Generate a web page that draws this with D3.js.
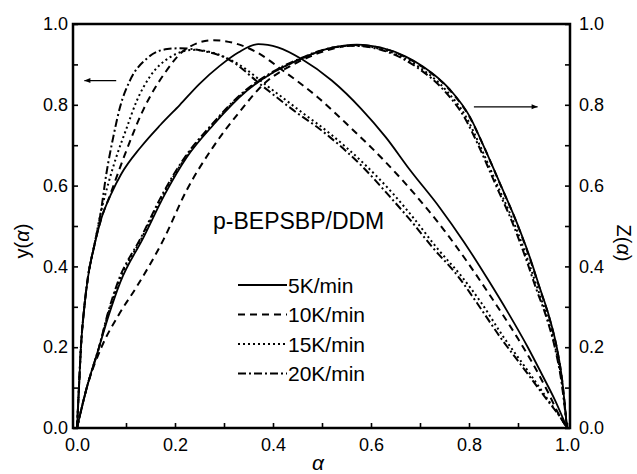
<!DOCTYPE html>
<html>
<head>
<meta charset="utf-8">
<script src="https://cdn.jsdelivr.net/npm/d3@7"></script>
<style>
body { margin: 0; background: #fff; }
text { font-family: "Liberation Sans", Arial, sans-serif; fill: #000; }
</style>
</head>
<body>
<div id="chart"></div>
<script>
// heating rates (legend)
var rates = ["5K/min", "10K/min", "15K/min", "20K/min"];
var xTicks = [0, 0.1, 0.2, 0.3, 0.4, 0.5, 0.6, 0.7, 0.8, 0.9, 1.0];
var yTicks = [0, 0.1, 0.2, 0.3, 0.4, 0.5, 0.6, 0.7, 0.8, 0.9, 1.0];
var tickLabels = ["0.0", "0.2", "0.4", "0.6", "0.8", "1.0"];

// y(alpha) curves, [alpha, value]
var y5 = [[0,0],[0.004,0.1],[0.008,0.2],[0.015,0.3],[0.022,0.37],[0.035,0.45],[0.05,0.52],[0.07,0.58],[0.09,0.628],[0.13,0.695],[0.17,0.75],[0.21,0.80],[0.25,0.852],[0.29,0.895],[0.33,0.93],[0.37,0.95],[0.41,0.942],[0.46,0.912],[0.52,0.86],[0.58,0.79],[0.63,0.72],[0.68,0.638],[0.74,0.546],[0.79,0.46],[0.84,0.365],[0.88,0.285],[0.92,0.20],[0.95,0.13],[0.975,0.07],[1,0]];
var y10 = [[0,0],[0.004,0.1],[0.008,0.2],[0.015,0.3],[0.022,0.37],[0.035,0.45],[0.05,0.52],[0.067,0.575],[0.094,0.665],[0.135,0.787],[0.18,0.88],[0.22,0.936],[0.278,0.96],[0.32,0.953],[0.367,0.93],[0.42,0.885],[0.49,0.82],[0.557,0.745],[0.626,0.663],[0.694,0.572],[0.749,0.49],[0.80,0.405],[0.843,0.328],[0.898,0.225],[0.93,0.16],[0.959,0.094],[0.985,0.03],[1,0]];
var y15 = [[0,0],[0.004,0.1],[0.008,0.2],[0.015,0.3],[0.022,0.37],[0.035,0.45],[0.048,0.53],[0.065,0.61],[0.08,0.67],[0.10,0.738],[0.122,0.81],[0.149,0.87],[0.19,0.918],[0.216,0.932],[0.24,0.936],[0.28,0.928],[0.33,0.9],[0.39,0.845],[0.455,0.785],[0.52,0.725],[0.585,0.655],[0.645,0.58],[0.69,0.515],[0.735,0.445],[0.785,0.375],[0.825,0.31],[0.87,0.226],[0.915,0.15],[0.96,0.072],[0.99,0.02],[1,0]];
var y20 = [[0,0],[0.004,0.1],[0.008,0.2],[0.015,0.3],[0.022,0.37],[0.035,0.45],[0.048,0.53],[0.06,0.63],[0.074,0.72],[0.088,0.795],[0.108,0.86],[0.143,0.915],[0.184,0.938],[0.21,0.94],[0.25,0.935],[0.31,0.912],[0.38,0.845],[0.449,0.78],[0.49,0.745],[0.516,0.72],[0.58,0.65],[0.639,0.572],[0.68,0.515],[0.727,0.445],[0.776,0.378],[0.816,0.31],[0.863,0.226],[0.91,0.15],[0.959,0.07],[0.99,0.02],[1,0]];

// Z(alpha) curves, [alpha, value]
var z5 = [[0,0],[0.02,0.1],[0.045,0.2],[0.065,0.28],[0.088,0.36],[0.135,0.47],[0.18,0.58],[0.224,0.67],[0.278,0.75],[0.347,0.835],[0.4,0.88],[0.45,0.91],[0.516,0.94],[0.571,0.949],[0.624,0.94],[0.67,0.92],[0.706,0.895],[0.761,0.838],[0.802,0.77],[0.829,0.70],[0.863,0.606],[0.898,0.507],[0.924,0.423],[0.945,0.345],[0.965,0.27],[0.98,0.195],[0.99,0.12],[1,0]];
var z10 = [[0,0],[0.02,0.1],[0.05,0.2],[0.085,0.28],[0.122,0.35],[0.176,0.465],[0.224,0.589],[0.278,0.696],[0.33,0.78],[0.38,0.85],[0.45,0.905],[0.52,0.938],[0.571,0.948],[0.624,0.94],[0.67,0.918],[0.706,0.893],[0.761,0.836],[0.802,0.768],[0.829,0.70],[0.863,0.605],[0.898,0.506],[0.924,0.42],[0.945,0.343],[0.965,0.268],[0.98,0.193],[0.99,0.12],[1,0]];
var z15 = [[0,0],[0.02,0.1],[0.045,0.2],[0.063,0.28],[0.085,0.36],[0.132,0.47],[0.177,0.58],[0.222,0.67],[0.276,0.75],[0.345,0.835],[0.4,0.88],[0.45,0.91],[0.516,0.94],[0.568,0.947],[0.62,0.938],[0.665,0.918],[0.7,0.892],[0.754,0.835],[0.795,0.768],[0.822,0.70],[0.856,0.606],[0.892,0.507],[0.918,0.423],[0.94,0.345],[0.961,0.27],[0.977,0.195],[0.989,0.12],[1,0]];
var z20 = [[0,0],[0.02,0.1],[0.045,0.2],[0.062,0.28],[0.083,0.36],[0.13,0.47],[0.175,0.58],[0.22,0.67],[0.274,0.75],[0.343,0.835],[0.4,0.882],[0.45,0.912],[0.516,0.94],[0.566,0.946],[0.618,0.937],[0.662,0.916],[0.697,0.89],[0.751,0.833],[0.792,0.766],[0.819,0.70],[0.853,0.606],[0.889,0.507],[0.915,0.423],[0.937,0.345],[0.959,0.27],[0.976,0.195],[0.988,0.12],[1,0]];

var svgWidth = 637, svgHeight = 474;
var svg = d3.select("#chart").append("svg")
    .attr("width", svgWidth).attr("height", svgHeight);

// plot frame
var frame = {left: 73, right: 570, top: 24, bottom: 428};
var x = d3.scaleLinear().domain([0, 1]).range([77, 567]);
var y = d3.scaleLinear().domain([0, 1]).range([428, 24]);

var dashes = ["none", "7,5", "2,3", "8,3,2,3"];

function fmt(d) {
    var s = d3.format(".1f")(d);
    return tickLabels.indexOf(s) >= 0 ? s : "";
}

// axes
var bottomAxis = d3.axisBottom(x).tickValues(xTicks).tickSize(-5).tickPadding(10).tickFormat(fmt);
var leftAxis = d3.axisLeft(y).tickValues(yTicks).tickSize(-5).tickPadding(5).tickFormat(fmt);
var rightAxis = d3.axisRight(y).tickValues(yTicks).tickSize(-5).tickPadding(9).tickFormat(fmt);

var gb = svg.append("g").attr("transform", `translate(0, ${frame.bottom})`).call(bottomAxis);
var gl = svg.append("g").attr("transform", `translate(${frame.left}, 0)`).call(leftAxis);
var gr = svg.append("g").attr("transform", `translate(${frame.right}, 0)`).call(rightAxis);
[gb, gl, gr].forEach(function(g) {
    g.select(".domain").remove();
    g.selectAll(".tick line").attr("stroke", "#000").attr("stroke-width", 1.6);
    g.selectAll(".tick text").style("font-size", "18px").attr("fill", "#000");
});

svg.append("rect")
    .attr("x", frame.left).attr("y", frame.top)
    .attr("width", frame.right - frame.left).attr("height", frame.bottom - frame.top)
    .attr("fill", "none").attr("stroke", "#000").attr("stroke-width", 2.5);

// curves
var line = d3.line().x(d => x(d[0])).y(d => y(d[1])).curve(d3.curveMonotoneX);
var ySeries = [y5, y10, y15, y20];
var zSeries = [z5, z10, z15, z20];
ySeries.concat(zSeries).forEach(function(s, i) {
    svg.append("path").datum(s)
        .attr("d", line)
        .attr("fill", "none").attr("stroke", "#000")
        .attr("stroke-width", i % 4 == 0 ? 1.8 : 2)
        .attr("stroke-dasharray", dashes[i % 4]);
});

// arrows showing which axis
function arrow(x1, x2, v) {
    var dir = x2 > x1 ? 1 : -1;
    svg.append("line")
        .attr("x1", x(x1)).attr("x2", x(x2)).attr("y1", y(v)).attr("y2", y(v))
        .attr("stroke", "#000").attr("stroke-width", 1.2);
    var tx = x(x2), ty = y(v);
    svg.append("path")
        .attr("d", `M${tx},${ty} L${tx - dir * 6},${ty - 2.5} L${tx - dir * 6},${ty + 2.5} Z`)
        .attr("fill", "#000");
}
arrow(0.08, 0.015, 0.86);
arrow(0.81, 0.94, 0.795);

// annotation
svg.append("text").attr("x", 213).attr("y", 229)
    .style("font-size", "23px").text("p-BEPSBP/DDM");

// legend
var legend = svg.append("g").attr("transform", "translate(238, 285)");
rates.forEach(function(r, i) {
    var row = legend.append("g").attr("transform", `translate(0, ${i * 29.5})`);
    row.append("line").attr("x1", 0).attr("x2", 49).attr("y1", 0).attr("y2", 0)
        .attr("stroke", "#000").attr("stroke-width", 1.8)
        .attr("stroke-dasharray", dashes[i]);
    row.append("text").attr("x", 50).attr("y", 7.5)
        .style("font-size", "21px").text(r);
});

// axis titles
svg.append("text")
    .attr("transform", "translate(29, 241) rotate(-90)")
    .attr("text-anchor", "middle").style("font-size", "20px")
    .html('y(<tspan font-style="italic">α</tspan>)');
svg.append("text")
    .attr("transform", "translate(617, 243) rotate(90)")
    .attr("text-anchor", "middle").style("font-size", "20px")
    .html('Z(<tspan font-style="italic">α</tspan>)');
svg.append("text")
    .attr("x", 318).attr("y", 470)
    .attr("text-anchor", "middle").style("font-size", "21px").style("font-style", "italic")
    .text("α");
</script>
</body>
</html>
